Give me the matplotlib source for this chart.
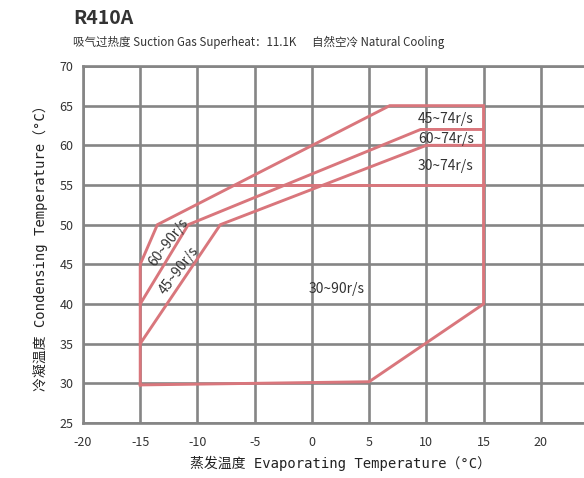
import matplotlib.pyplot as plt

plt.rcParams['font.family'] = ['Noto Sans CJK SC', 'DejaVu Sans']
plt.rcParams['axes.unicode_minus'] = False

# envelope boundaries (evaporating temp, condensing temp)
outer_x = [-15, 5, 15, 15, 6.8, -13.5, -15, -15]
outer_y = [29.8, 30.2, 40, 65, 65, 50, 45, 29.8]
line55_x = [-6.7, 15]
line55_y = [55, 55]
line2_x = [-15, -10.8, 9.5, 15]
line2_y = [40, 50, 62, 62]
line3_x = [-15, -8, 10, 15]
line3_y = [35, 50, 60, 60]

labels = ['30~90r/s', '45~74r/s', '60~74r/s', '30~74r/s', '60~90r/s', '45~90r/s']
label_x = [2.2, 11.7, 11.7, 11.7, -12.5, -11.65]
label_y = [41.9, 63.35, 60.8, 57.4, 47.8, 44.2]
label_rot = [0, 0, 0, 0, 53, 53]

xticks = [-20, -15, -10, -5, 0, 5, 10, 15, 20]
yticks = [25, 30, 35, 40, 45, 50, 55, 60, 65, 70]

red = '#d9767c'
grey = '#858585'

fig = plt.figure(figsize=(5.84, 4.78), dpi=100)
ax = fig.add_axes([83/584, 55/478, 515/584, 357/478])

for xs, ys in [(outer_x, outer_y), (line55_x, line55_y), (line2_x, line2_y), (line3_x, line3_y)]:
    ax.plot(xs, ys, color=red, lw=2.1, solid_joinstyle='miter', zorder=3)

for t, x, y, r in zip(labels, label_x, label_y, label_rot):
    ax.text(x, y, t, ha='center', va='center', rotation=r, fontsize=10, color='#333333', zorder=4)

ax.set_xlim(-20, 25)
ax.set_ylim(25, 70)
ax.set_xticks(xticks)
ax.set_yticks(yticks)
ax.grid(True, color=grey, lw=1.9, zorder=1)
ax.set_axisbelow(True)
for s in ax.spines.values():
    s.set_color(grey)
    s.set_linewidth(1.9)
ax.tick_params(length=0, labelsize=9, labelcolor='#333333')
ax.tick_params(axis='x', pad=9)
ax.tick_params(axis='y', pad=7)

mono = ['DejaVu Sans Mono', 'Noto Sans CJK SC']
ax.set_xlabel('蒸发温度 Evaporating Temperature（°C）', family=mono, fontsize=10, color='#222222', labelpad=5)
ax.set_ylabel('冷凝温度 Condensing Temperature（°C）', family=mono, fontsize=10, color='#222222', labelpad=8)

fig.text(73/584, 1 - 18/478, 'R410A', fontsize=14, fontweight='bold', color='#333333', va='center')
fig.text(73/584, 1 - 42/478, '吸气过热度 Suction Gas Superheat：11.1K      自然空冷 Natural Cooling',
         fontsize=8.3, color='#333333', va='center')

fig.savefig('out.png', dpi=100)
